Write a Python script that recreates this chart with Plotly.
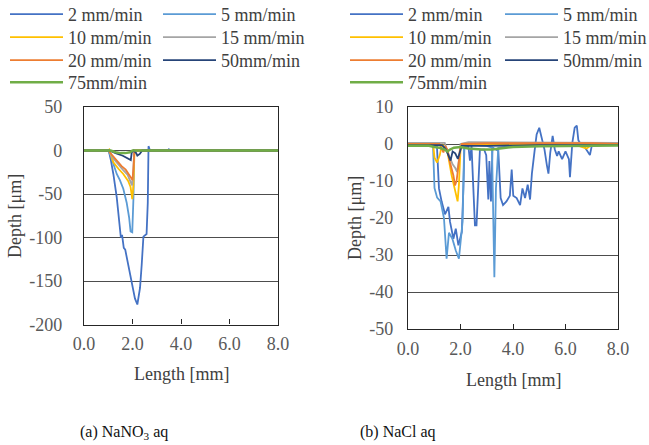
import plotly.graph_objects as go

W, H = 649, 445

series_names = ["2 mm/min", "5 mm/min", "10 mm/min", "15 mm/min", "20 mm/min", "50mm/min", "75mm/min"]
series_colors = ["#4472C4", "#5B9BD5", "#FFC000", "#A5A5A5", "#ED7D31", "#264478", "#70AD47"]
series_widths = [1.8, 1.8, 1.8, 1.8, 1.8, 1.8, 2.5]

x_ticks = [0, 2, 4, 6, 8]
x_tick_text = ["0.0", "2.0", "4.0", "6.0", "8.0"]
y_ticks_a = [50, 0, -50, -100, -150, -200]
y_tick_text_a = ["50", "0", "-50", "-100", "-150", "-200"]
y_ticks_b = [10, 0, -10, -20, -30, -40, -50]
y_tick_text_b = ["10", "0", "-10", "-20", "-30", "-40", "-50"]

# (a) NaNO3 aq
a2_x = [0, 1.02, 1.1, 1.21, 1.35, 1.46, 1.52, 1.57, 1.6, 1.64, 1.7, 1.82, 1.96, 2.1, 2.2, 2.31, 2.38, 2.45, 2.58, 2.63, 2.66, 2.72, 3.45, 3.5, 3.55, 8.0]
a2_y = [0, 0, -10, -27, -54, -89, -100, -97, -104, -112, -114, -131, -154, -170, -177, -158, -131, -99, -96, -60, 5, 0, 0, 1.5, 0, 0]
a5_x = [0, 1.0, 1.1, 1.21, 1.35, 1.48, 1.62, 1.76, 1.86, 1.92, 1.99, 2.04, 2.07, 8.0]
a5_y = [0, 0, -6, -15, -27, -34, -44, -60, -77, -93, -94, -54, 0, 0]
a10_x = [0, 1.0, 1.04, 1.21, 1.42, 1.62, 1.82, 1.92, 1.99, 2.04, 2.08, 2.15, 8.0]
a10_y = [0, 0, 1, -13.5, -21, -27, -35, -42, -56, -40, -3, 0, 0]
a15_x = [0, 1.02, 1.2, 1.4, 1.6, 1.8, 1.92, 1.98, 2.03, 2.07, 8.0]
a15_y = [0, 0, -9, -16, -22, -28, -35, -40, -25, 0, 0]
a20_x = [0, 1.0, 1.15, 1.35, 1.55, 1.72, 1.85, 1.95, 2.0, 2.04, 2.08, 8.0]
a20_y = [0, 0, -5, -12, -18, -22, -27, -32, -34, -20, 0, 0]
a50_x = [0, 1.05, 1.3, 1.6, 1.93, 1.97, 2.05, 2.15, 2.2, 2.3, 2.4, 8.0]
a50_y = [0, 0, -3, -6, -11, -2, 0, -3, -6, -4, 0, 0]
a75_x = [0, 1.1, 1.3, 1.5, 1.7, 1.9, 2.0, 8.0]
a75_y = [0, 0, -2, -3, -3, -2, 0, 0]

# (b) NaCl aq
b2_x = [0, 0.5, 1.1, 1.18, 1.28, 1.41, 1.54, 1.6, 1.73, 1.82, 1.92, 2.05, 2.11, 2.15, 2.3, 2.36, 2.42, 2.49,
        2.55, 2.61, 2.68, 2.74, 2.9, 2.98, 3.06, 3.1, 3.16, 3.22, 3.44, 3.53, 3.62, 3.75, 3.88, 3.95, 4.01,
        4.14, 4.27, 4.36, 4.46, 4.56, 4.65, 4.72, 4.82, 4.9, 5.0, 5.1, 5.2, 5.29, 5.35, 5.42, 5.51, 5.59,
        5.68, 5.74, 5.87, 6.0, 6.13, 6.17, 6.26, 6.35, 6.43, 6.49, 6.58, 6.7, 6.85, 6.93, 7.0, 7.5, 8.0]
b2_y = [0, 0.2, -0.3, -12, -15.5, -19, -17, -21, -25.6, -22.9, -27.4, -23.8, -11.9, -0.5, -0.5, -4.5, -0.5, -12,
        -22, -22, -12, -1.5, -1.5, -3, -15, -4.6, -15.5, -1, -1.8, -14.6, -16.5, -15.5, -14, -6.9, -14,
        -14.6, -16.5, -12, -14.6, -11, -15, -8, -2, 2.6, 4.4, 1, -1.5, -5.7, -8, -2.3, 2.2, -1.4,
        -3.2, -2, -4.1, -2, -4.1, -9, 0.3, 4.4, 5, 1, 0, -0.5, -2, -3, -0.5, -0.3, 0]
b5_x = [0, 0.5, 0.95, 1.01, 1.11, 1.24, 1.37, 1.47, 1.56, 1.69, 1.82, 1.94, 2.08, 2.14, 3.0, 3.2, 3.25, 3.29, 3.35, 3.44, 4.0, 5.0, 6.0, 7.0, 8.0]
b5_y = [0, 0, 0, -11.9, -14.5, -15.5, -20, -31, -24, -25.6, -28.8, -31, -21, 0, -0.5, -1, -20, -36, -12, -1, -0.5, -0.5, -0.3, -0.3, 0]
b10_x = [0, 0.9, 0.97, 1.01, 1.11, 1.21, 1.3, 1.5, 1.66, 1.79, 1.89, 1.94, 2.0, 2.1, 5.0, 6.5, 6.8, 7.0, 8.0]
b10_y = [0, 0, -1, -3.7, -5, -3, 0, -2, -8.4, -12, -15.5, -11, -1.5, 0, -0.3, -0.5, -1.2, -0.3, 0]
b15_x = [0, 1.4, 1.5, 1.6, 1.7, 1.8, 1.87, 1.93, 2.0, 2.3, 8.0]
b15_y = [0.3, 0.3, -2, -4, -5.5, -6.5, -7.5, -5, 0, 0.5, 0.3]
b20_x = [0, 1.2, 1.3, 1.35, 1.42, 1.5, 1.6, 1.73, 1.79, 1.85, 1.92, 1.98, 2.05, 3.0, 4.0, 5.0, 6.0, 7.0, 8.0]
b20_y = [0, 0, -1.5, -2.3, -0.5, -1.5, -5, -8.5, -11.2, -10, -5.9, -1.4, 0, 0.2, 0.2, 0.3, 0.2, 0.2, 0]
b50_x = [0, 1.3, 1.45, 1.55, 1.62, 1.7, 1.8, 1.9, 1.97, 2.05, 3.0, 5.0, 8.0]
b50_y = [-0.3, -0.3, -1.5, -3, -4.5, -2, -2.5, -4, -2, -0.5, -0.5, -0.3, -0.3]
b75_x = [0, 0.8, 1.0, 1.2, 1.4, 1.5, 1.6, 1.75, 2.0, 2.3, 2.8, 3.2, 3.5, 4.0, 5.0, 6.0, 7.0, 8.0]
b75_y = [-0.5, -0.5, -0.8, -1, -1.5, -2, -1.5, -1, -0.8, -1.2, -1.5, -1.5, -1.2, -0.8, -0.6, -0.5, -0.5, -0.4]

a_data = [(a2_x, a2_y), (a5_x, a5_y), (a10_x, a10_y), (a15_x, a15_y), (a20_x, a20_y), (a50_x, a50_y), (a75_x, a75_y)]
b_data = [(b2_x, b2_y), (b5_x, b5_y), (b10_x, b10_y), (b15_x, b15_y), (b20_x, b20_y), (b50_x, b50_y), (b75_x, b75_y)]

FONT = "Liberation Serif"
TXT = "#404040"
TICK = "#595959"

fig = go.Figure()

# legend slots (pixels from top-left): column line start x, row center y
col_a = [10, 163]
col_b = [350, 505]
rows = [15, 38, 61, 83]
slot = [(0, 0), (1, 0), (0, 1), (1, 1), (0, 2), (1, 2), (0, 3)]

legends = {}
for side, (data, cols, xa, ya) in enumerate([(a_data, col_a, "x", "y"), (b_data, col_b, "x2", "y2")]):
    for i, (xs, ys) in enumerate(data):
        lname = "legend" if (side == 0 and i == 0) else f"legend{side * 7 + i + 1}"
        c, r = slot[i]
        fig.add_trace(go.Scatter(
            x=xs, y=ys, mode="lines", name=series_names[i],
            line=dict(color=series_colors[i], width=series_widths[i]),
            xaxis=xa, yaxis=ya, legend=lname, showlegend=True,
        ))
        legends[lname] = dict(
            x=(cols[c] - 5) / W, y=1 - (rows[r] - 19) / H,
            xanchor="left", yanchor="top", bgcolor="rgba(0,0,0,0)", borderwidth=0,
            font=dict(family=FONT, size=18, color=TXT), itemwidth=53,
        )

axis_common = dict(
    showline=True, mirror=True, linecolor="#262626", linewidth=1.3, automargin=False,
    tickfont=dict(family=FONT, size=18, color=TICK), zeroline=False,
)

fig.update_layout(
    width=W, height=H,
    margin=dict(l=0, r=0, t=0, b=0, autoexpand=False),
    paper_bgcolor="white", plot_bgcolor="white",
    showlegend=True,
    xaxis=dict(domain=[84 / W, 278 / W], range=[0, 8], tickvals=x_ticks, ticktext=x_tick_text,
               ticks="inside", ticklen=5, tickcolor="#262626", showgrid=False,
               ticklabelstandoff=3, anchor="y", **axis_common),
    yaxis=dict(domain=[1 - 324.5 / H, 1 - 107 / H], range=[-200, 50], tickvals=y_ticks_a,
               ticktext=y_tick_text_a,
               showgrid=True, gridcolor="#4d4d4d", gridwidth=1, ticks="",
               ticklabelstandoff=17, anchor="x", **axis_common),
    xaxis2=dict(domain=[408 / W, 618 / W], range=[0, 8], tickvals=x_ticks, ticktext=x_tick_text,
                ticks="inside", ticklen=5, tickcolor="#262626", showgrid=False,
                ticklabelstandoff=3, anchor="y2", **axis_common),
    yaxis2=dict(domain=[1 - 329 / H, 1 - 107 / H], range=[-50, 10], tickvals=y_ticks_b,
                ticktext=y_tick_text_b,
                showgrid=True, gridcolor="#4d4d4d", gridwidth=1, ticks="",
                ticklabelstandoff=10, anchor="x2", **axis_common),
    **legends,
)

ann_font = dict(family=FONT, size=18, color=TXT)
annotations = [
    dict(text="Depth [μm]", x=15 / W, y=1 - 216 / H, textangle=-90),
    dict(text="Depth [μm]", x=355 / W, y=1 - 218 / H, textangle=-90),
    dict(text="Length [mm]", x=181 / W, y=1 - 374 / H),
    dict(text="Length [mm]", x=513 / W, y=1 - 380 / H),
]
for a in annotations:
    fig.add_annotation(xref="paper", yref="paper", xanchor="center", yanchor="middle",
                       showarrow=False, font=ann_font, **a)

cap_font = dict(family=FONT, size=16, color="#111111")
fig.add_annotation(text="(a) NaNO<sub>3</sub> aq", x=124 / W, y=1 - 432 / H, xref="paper", yref="paper",
                   showarrow=False, font=cap_font, xanchor="center", yanchor="middle")
fig.add_annotation(text="(b) NaCl aq", x=398 / W, y=1 - 432 / H, xref="paper", yref="paper",
                   showarrow=False, font=cap_font, xanchor="center", yanchor="middle")

fig.write_html("out.html", config={"displayModeBar": False},
               post_script="document.body.style.margin='0px';document.body.style.overflow='hidden';")
